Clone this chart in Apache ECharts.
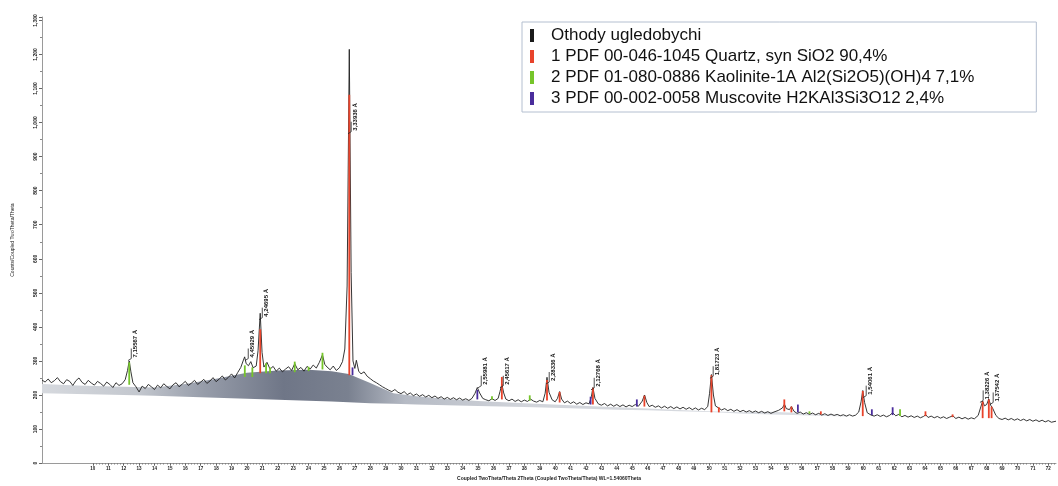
<!DOCTYPE html>
<html>
<head>
<meta charset="utf-8">
<script src="https://cdn.jsdelivr.net/npm/echarts@6/dist/echarts.min.js"></script>
<style>
html,body{margin:0;padding:0;background:#fff;}
#chart{width:1058px;height:486px;}
</style>
</head>
<body>
<div id="chart"></div>
<script>
// ---------- DATA ----------
const seriesNames = [
  'Othody ugledobychi',
  '1 PDF 00-046-1045 Quartz, syn SiO2 90,4%',
  '2 PDF 01-080-0886 Kaolinite-1A Al2(Si2O5)(OH)4 7,1%',
  '3 PDF 00-002-0058 Muscovite H2KAl3Si3O12 2,4%'
];
// measured pattern: [2Theta, counts]
const trace = [
[6.7,244],[6.9,238],[7.1,247],[7.3,236],[7.5,242],[7.7,251],[7.9,239],[8.1,233],[8.3,245],[8.5,240],
[8.7,228],[8.9,242],[9.1,250],[9.3,237],[9.5,231],[9.7,243],[9.9,235],[10.1,229],[10.3,240],[10.5,234],
[10.7,226],[10.9,238],[11.1,231],[11.3,222],[11.5,236],[11.7,228],[11.9,233],[12.1,245],[12.25,272],[12.36,300],
[12.47,268],[12.6,236],[12.8,224],[13.0,209],[13.2,226],[13.4,219],[13.6,231],[13.8,224],[14.0,216],[14.2,229],
[14.4,221],[14.6,233],[14.8,225],[15.0,218],[15.2,230],[15.4,236],[15.6,224],[15.8,232],[16.0,240],[16.2,228],
[16.4,235],[16.6,243],[16.8,231],[17.0,238],[17.2,246],[17.4,234],[17.6,241],[17.8,251],[18.0,239],[18.2,247],
[18.4,256],[18.6,244],[18.8,252],[19.0,262],[19.2,250],[19.4,266],[19.6,281],[19.75,300],[19.85,312],[19.95,292],
[20.1,286],[20.25,298],[20.4,280],[20.6,285],[20.72,330],[20.86,440],[20.98,325],[21.1,282],[21.3,296],[21.5,276],
[21.7,284],[21.9,270],[22.1,279],[22.3,268],[22.5,276],[22.7,283],[22.9,272],[23.1,292],[23.3,274],[23.5,281],
[23.7,270],[23.9,284],[24.1,276],[24.3,288],[24.5,279],[24.7,296],[24.9,318],[25.05,290],[25.2,282],[25.4,274],
[25.6,285],[25.8,272],[26.0,280],[26.2,298],[26.35,335],[26.5,520],[26.64,1215],[26.76,560],[26.88,300],[27.0,278],
[27.1,302],[27.25,270],[27.4,262],[27.6,268],[27.8,255],[28.0,248],[28.2,241],[28.4,236],[28.6,230],[28.8,224],
[29.0,219],[29.2,214],[29.4,210],[29.6,216],[29.8,208],[30.0,204],[30.2,210],[30.4,201],[30.6,206],[30.8,198],
[31.0,203],[31.2,196],[31.4,201],[31.6,194],[31.8,199],[32.0,192],[32.2,197],[32.4,190],[32.6,195],[32.8,188],
[33.0,193],[33.2,187],[33.4,192],[33.6,186],[33.8,191],[34.0,185],[34.2,189],[34.4,184],[34.6,190],[34.8,205],
[34.95,222],[35.1,206],[35.3,190],[35.5,186],[35.7,183],[35.9,189],[36.1,184],[36.3,190],[36.42,210],[36.54,232],
[36.66,206],[36.8,188],[37.0,183],[37.2,188],[37.4,181],[37.6,186],[37.8,180],[38.0,185],[38.2,181],[38.4,188],
[38.6,182],[38.8,179],[39.0,184],[39.2,180],[39.35,205],[39.47,252],[39.6,208],[39.8,186],[40.0,180],[40.15,190],
[40.29,210],[40.42,188],[40.6,177],[40.8,182],[41.0,175],[41.2,180],[41.4,173],[41.6,178],[41.8,172],[42.0,177],
[42.2,174],[42.35,195],[42.45,222],[42.58,190],[42.8,174],[43.0,170],[43.2,175],[43.4,168],[43.6,173],[43.8,167],
[44.0,172],[44.2,166],[44.4,171],[44.6,165],[44.8,170],[45.0,166],[45.2,172],[45.4,167],[45.65,182],[45.8,200],
[45.95,178],[46.1,166],[46.3,170],[46.5,164],[46.7,168],[46.9,162],[47.1,167],[47.3,161],[47.5,166],[47.7,160],
[47.9,165],[48.1,159],[48.3,164],[48.5,158],[48.7,163],[48.9,157],[49.1,162],[49.3,156],[49.5,161],[49.7,157],
[49.9,166],[50.02,205],[50.14,260],[50.27,200],[50.4,168],[50.6,162],[50.8,156],[51.0,160],[51.2,154],[51.4,158],
[51.6,152],[51.8,157],[52.0,151],[52.2,155],[52.4,150],[52.6,154],[52.8,149],[53.0,153],[53.2,148],[53.4,152],
[53.6,147],[53.8,151],[54.0,146],[54.2,150],[54.5,155],[54.75,162],[54.88,173],[55.0,160],[55.2,157],[55.33,166],
[55.5,152],[55.7,146],[55.9,150],[56.1,144],[56.3,148],[56.5,143],[56.7,147],[56.9,142],[57.1,146],[57.3,141],
[57.5,145],[57.7,140],[57.9,144],[58.1,140],[58.3,143],[58.5,139],[58.7,142],[58.9,138],[59.1,142],[59.3,138],
[59.5,141],[59.7,150],[59.85,180],[59.96,213],[60.08,178],[60.25,148],[60.5,141],[60.7,138],[60.9,142],[61.1,137],
[61.3,141],[61.5,136],[61.7,140],[61.9,148],[62.1,139],[62.3,143],[62.5,136],[62.7,140],[62.9,135],[63.1,139],
[63.3,134],[63.5,138],[63.7,133],[63.9,137],[64.05,142],[64.2,134],[64.4,138],[64.6,133],[64.8,137],[65.0,132],
[65.2,136],[65.4,131],[65.6,135],[65.8,139],[66.0,131],[66.2,135],[66.4,130],[66.6,134],[66.8,129],[67.0,133],
[67.2,130],[67.45,140],[67.62,165],[67.74,182],[67.86,168],[68.0,172],[68.14,188],[68.26,170],[68.4,160],[68.6,140],
[68.8,131],[69.0,128],[69.2,132],[69.4,127],[69.6,131],[69.8,126],[70.0,130],[70.2,125],[70.4,129],[70.6,124],
[70.8,128],[71.0,123],[71.2,127],[71.4,122],[71.6,126],[71.8,121],[72.0,125],[72.2,120],[72.5,123]
];
// amorphous background hump: 2Theta, lower edge, upper edge (counts)
const bgTheta = [6.7, 9, 12, 14, 16, 18, 20, 22, 24, 25.5, 26.6, 28, 29.5, 31, 33, 35, 38, 41, 44, 46, 48, 50, 52, 54, 55.5, 57, 59];
const bgLower = [205, 203, 200, 198, 195, 192, 189, 186, 183, 181, 179, 176, 174, 172, 170, 168, 165, 161, 157, 155, 152, 150, 146, 143, 141, 139, 137];
const bgUpper = [232, 228, 224, 222, 232, 248, 265, 272, 274, 270, 262, 235, 205, 196, 188, 182, 176, 170, 164, 160, 156, 152, 149, 151, 148, 143, 138];
// reference sticks: [2Theta, bottom, top]
const quartzSticks = [
[20.86,264,393],[26.64,258,1082],[36.54,187,253],[39.47,184,244],[40.29,178,209],[42.45,172,221],
[45.79,166,198],[50.14,149,258],[50.62,149,164],[54.87,152,187],[55.33,149,166],[57.24,143,152],
[59.96,138,212],[64.03,138,152],[65.79,135,143],[67.74,132,181],[68.14,132,187],[68.32,132,166]
];
const kaoliniteSticks = [
[12.36,230,296],[19.86,253,287],[20.35,253,281],[21.24,264,293],[21.5,264,281],[23.1,267,298],
[24.0,270,283],[24.9,275,324],[35.9,186,196],[38.35,183,199],[56.5,145,152],[62.38,138,158]
];
const muscoviteSticks = [
[26.85,258,281],[34.95,187,215],[42.3,172,195],[45.3,166,187],[55.75,149,172],[60.55,141,158],[61.9,141,164]
];
// d-spacing labels
const peakLabelTheta = [12.74, 20.33, 21.24, 27.01, 35.45, 36.88, 39.86, 42.78, 50.5, 60.43, 68.02, 68.67];
const peakLabelBase  = [310, 310, 430, 976, 230, 230, 241, 224, 258, 201, 187, 181];
const peakLabelText  = ['7,15567 Å','4,45929 Å','4,24695 Å','3,33936 Å','2,55981 Å','2,45617 Å','2,28336 Å','2,12768 Å','1,81723 Å','1,54061 Å','1,38226 Å','1,37542 Å'];
// axis ticks
const xTickLabels = [10,11,12,13,14,15,16,17,18,19,20,21,22,23,24,25,26,27,28,29,30,31,32,33,34,35,36,37,38,39,40,41,42,43,44,45,46,47,48,49,50,51,52,53,54,55,56,57,58,59,60,61,62,63,64,65,66,67,68,69,70,71,72];
const xMin = 6.7, xMax = 72.5, yMax = 1310;

// ---------- CHART ----------
const colors = ['#1a1a1a', '#e8432b', '#76c52a', '#4a2d9c'];
const minorTicks = [];
for (let i = 0; i <= 312; i++) minorTicks.push(+(10 + i * 0.2).toFixed(1));

function stickSeries(name, data, color) {
  return {
    name, type: 'custom', data, z: 4,
    itemStyle: { color },
    encode: { x: 0, y: [1, 2] },
    renderItem: (params, api) => {
      const p0 = api.coord([api.value(0), api.value(1)]);
      const p1 = api.coord([api.value(0), api.value(2)]);
      return { type: 'line', shape: { x1: p0[0], y1: p0[1], x2: p1[0], y2: p1[1] },
        style: { stroke: color, lineWidth: 1.8 } };
    }
  };
}

const humpGradient = new echarts.graphic.LinearGradient(0, 0, 1, 0, [
  { offset: 0, color: '#d6d9de' }, { offset: 0.12, color: '#c3c7ce' },
  { offset: 0.2, color: '#979daa' }, { offset: 0.3, color: '#6f7687' },
  { offset: 0.38, color: '#7a8190' }, { offset: 0.45, color: '#b5bac4' },
  { offset: 0.6, color: '#d1d4da' }, { offset: 1, color: '#dcdfe4' }
]);

const chart = echarts.init(document.getElementById('chart'), null, { renderer: 'canvas' });
chart.setOption({
  animation: false,
  backgroundColor: '#fff',
  grid: { left: 42, right: 2, top: 17, bottom: 16, containLabel: false },
  legend: {
    data: seriesNames, orient: 'vertical', left: 522, top: 22,
    icon: 'rect', itemWidth: 4, itemHeight: 13, itemGap: 4,
    backgroundColor: '#fff', borderColor: '#b4bfd0', borderWidth: 1,
    padding: [5, 62, 5, 8],
    textStyle: { fontSize: 17, color: '#111', fontFamily: 'Liberation Sans, Arial, sans-serif', padding: [0, 0, 0, 12] }
  },
  xAxis: [{
    type: 'value', min: xMin, max: xMax,
    name: 'Coupled TwoTheta/Theta 2Theta (Coupled TwoTheta/Theta) WL=1.54060Theta',
    nameLocation: 'middle', nameGap: 11,
    nameTextStyle: { fontSize: 5, fontWeight: 'bold', color: '#222', fontFamily: 'Liberation Sans' },
    axisLine: { show: true, lineStyle: { color: '#9a9a9a', width: 1 } },
    axisTick: { show: true, customValues: xTickLabels, length: 2.5, lineStyle: { color: '#555' } },
    axisLabel: { customValues: xTickLabels, fontSize: 4.5, margin: 3, color: '#222', fontWeight: 'bold', fontFamily: 'Liberation Sans' },
    splitLine: { show: false }
  }, {
    type: 'value', min: xMin, max: xMax, position: 'bottom', offset: 0,
    axisLine: { show: false },
    axisTick: { show: true, customValues: minorTicks, length: 1.5, lineStyle: { color: '#777', width: 0.8 } },
    axisLabel: { show: false },
    splitLine: { show: false }
  }],
  yAxis: {
    type: 'value', min: 0, max: yMax, interval: 100,
    name: 'Counts/Coupled TwoTheta/Theta', nameLocation: 'middle', nameGap: 27,
    nameTextStyle: { fontSize: 5, color: '#222', fontFamily: 'Liberation Sans' },
    axisLine: { show: true, lineStyle: { color: '#9a9a9a', width: 1 } },
    axisTick: { show: true, length: 3, lineStyle: { color: '#666' } },
    minorTick: { show: true, splitNumber: 2, length: 2, lineStyle: { color: '#888' } },
    axisLabel: { rotate: 90, fontSize: 5, margin: 4, color: '#222', fontWeight: 'bold', fontFamily: 'Liberation Sans',
      showMaxLabel: false },
    splitLine: { show: false }
  },
  series: [
    { name: 'hump', type: 'custom', silent: true, z: 1,
      data: bgTheta.map((t, i) => [t, bgLower[i], bgUpper[i]]),
      encode: { x: 0, y: [1, 2] },
      renderItem: (params, api) => {
        if (params.dataIndex !== 0) return null;
        const top = bgTheta.map((t, i) => api.coord([t, bgUpper[i]]));
        const bottom = bgTheta.map((t, i) => api.coord([t, bgLower[i]])).reverse();
        return { type: 'polygon', shape: { points: top.concat(bottom) },
          style: { fill: humpGradient } };
      } },
    { name: seriesNames[0], type: 'line', data: trace, symbol: 'none', z: 3,
      itemStyle: { color: colors[0] }, lineStyle: { color: '#1f1f1f', width: 0.9 } },
    stickSeries(seriesNames[1], quartzSticks, colors[1]),
    stickSeries(seriesNames[2], kaoliniteSticks, colors[2]),
    stickSeries(seriesNames[3], muscoviteSticks, colors[3]),
    { name: 'labels', type: 'custom', z: 6, silent: true,
      data: peakLabelTheta.map((t, i) => [t, peakLabelBase[i]]),
      encode: { x: 0, y: 1 },
      renderItem: (params, api) => {
        const p = api.coord([api.value(0), api.value(1)]);
        const txt = peakLabelText[params.dataIndex];
        return { type: 'group', children: [
          { type: 'text', x: p[0], y: p[1], rotation: Math.PI / 2,
            style: { text: txt, fontSize: 6, fontWeight: 'bold', fill: '#111', align: 'left',
              verticalAlign: 'middle', fontFamily: 'Liberation Sans' } },
          { type: 'line', shape: { x1: p[0] - 3.8, y1: p[1] + 1, x2: p[0] - 3.8, y2: p[1] - 9 },
            style: { stroke: '#222', lineWidth: 0.8 } },
          { type: 'line', shape: { x1: p[0] - 3.8, y1: p[1] + 1, x2: p[0] - 7, y2: p[1] + 3 },
            style: { stroke: '#222', lineWidth: 0.8 } }
        ] };
      } }
  ]
});
</script>
</body>
</html>
